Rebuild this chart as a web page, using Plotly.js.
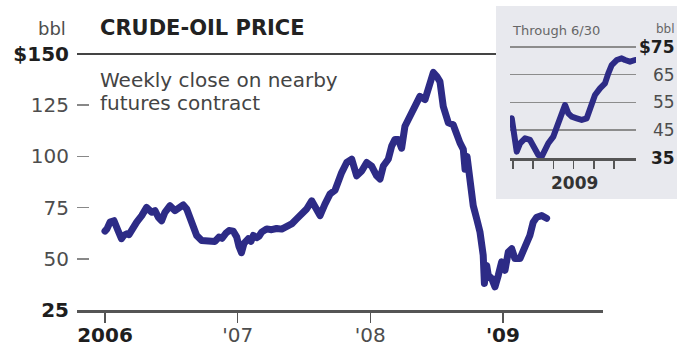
<!DOCTYPE html>
<html>
<head>
<meta charset="utf-8">
<script src="https://cdn.plot.ly/plotly-3.0.1.min.js"></script>
<style>
html,body{margin:0;padding:0;background:#fff;}
#chart{width:678px;height:347px;}
.scatterlayer .js-line{stroke-linejoin:round!important;stroke-linecap:round!important;}
</style>
</head>
<body>
<div id="chart"></div>
<script>
// ---- Main chart data: weekly close (x = fractional year) ----
const mainYears = [
  2006.000,2006.015,2006.038,2006.068,2006.098,2006.124,2006.143,2006.164,2006.181,2006.201,
  2006.239,2006.277,2006.314,2006.352,2006.377,2006.402,2006.427,2006.452,2006.490,2006.528,
  2006.565,2006.590,2006.616,2006.641,2006.666,2006.691,2006.729,2006.779,2006.829,2006.859,
  2006.882,2006.912,2006.935,2006.967,2006.993,2007.010,2007.029,2007.048,2007.080,2007.100,
  2007.118,2007.143,2007.161,2007.181,2007.219,2007.256,2007.294,2007.332,2007.370,2007.407,
  2007.445,2007.483,2007.520,2007.558,2007.583,2007.621,2007.658,2007.696,2007.734,2007.756,
  2007.784,2007.822,2007.860,2007.897,2007.935,2007.973,2008.010,2008.048,2008.073,2008.098,
  2008.135,2008.161,2008.186,2008.211,2008.236,2008.261,2008.299,2008.337,2008.374,2008.412,
  2008.437,2008.475,2008.502,2008.525,2008.550,2008.588,2008.625,2008.651,2008.676,2008.701,
  2008.714,2008.729,2008.751,2008.776,2008.802,2008.827,2008.851,2008.860,2008.877,2008.889,
  2008.915,2008.940,2008.965,2008.990,2009.015,2009.040,2009.066,2009.090,2009.128,2009.166,
  2009.203,2009.228,2009.254,2009.292,2009.329
];
const mainPrices = [
  63.5,64.6,67.9,68.6,63.8,59.8,61.5,62.2,61.8,64.6,
  67.9,71.1,75.1,72.7,73.5,70.3,68.6,72.7,75.9,73.5,
  75.1,76.3,74.3,69.5,64.6,61.4,58.9,58.9,58.5,60.6,
  60.0,62.5,63.8,63.5,60.6,56.0,53.0,57.5,59.8,58.5,
  61.4,60.3,61.0,63.0,64.6,64.2,64.8,64.5,65.4,67.0,
  69.5,71.9,74.3,78.3,75.9,71.1,76.7,81.6,83.5,88.0,
  92.1,97.0,98.6,90.5,92.9,97.0,95.3,90.5,88.9,95.3,
  98.6,105.0,108.3,108.3,104.0,114.7,119.6,126.1,129.3,127.7,
  134.1,141.0,139.0,136.5,124.4,116.4,115.5,109.9,106.6,103.4,
  93.7,100.0,88.9,75.9,69.5,63.0,51.7,38.0,46.8,42.0,
  40.4,36.3,42.0,48.5,44.4,53.3,54.9,50.1,50.1,54.9,
  61.4,67.9,70.3,71.1,69.8
];
const yearTicks = [2006, 2007, 2008, 2009];
const yearTickLabels = ['2006', "'07", "'08", "'09"];
const priceTicks = [25, 50, 75, 100, 125, 150];
const priceTickLabels = ['25', '50', '75', '100', '125', '$150'];

// ---- Inset data: 2009 through 6/30 (x = months since Jan 1, 2009) ----
const insetMonths = [
  -0.064,0.099,0.183,0.347,0.594,0.842,1.005,1.252,1.421,1.584,
  1.748,1.995,2.163,2.411,2.574,2.738,2.906,3.153,3.401,3.649,
  3.812,4.059,4.307,4.554,4.718,4.886,5.134,5.381,5.545,5.792,6.040
];
const insetPrices = [
  49.3,41.5,37.3,40.3,42.1,41.5,39.1,36.1,35.5,37.9,
  40.3,42.7,46.3,51.1,54.1,51.1,49.9,49.3,48.7,49.3,
  52.3,57.7,60.1,61.9,65.5,68.5,70.3,70.9,70.3,69.7,70.3
];
const insetMonthTicks = [0, 1, 2, 3, 4, 5];
const insetPriceTicks = [35, 45, 55, 65, 75];
const insetPriceLabels = ['35', '45', '55', '65', '$75'];

// ---- layout helpers (pixel geometry) ----
const W = 678, H = 347;
const M = {l: 77, r: 0, t: 0, b: 37};
const PW = W - M.l - M.r, PH = H - M.t - M.b;
const px2x = px => (px - M.l) / PW;
const px2y = py => (H - M.b - py) / PH;

const FONT = 'DejaVu Sans';
const LINE = '#2d2b86';
const DARK = '#1e1e1e';
const GRAY = '#4d4d4d';

const boldEnds = (labels) => labels.map((t, i) =>
  (i === 0 || i === labels.length - 1) ? '<b><span style="color:' + DARK + '">' + t + '</span></b>' : t);

const traces = [
  {x: mainYears, y: mainPrices, xaxis: 'x', yaxis: 'y', type: 'scatter', mode: 'lines',
   line: {color: LINE, width: 7}, hoverinfo: 'skip'},
  {x: insetMonths, y: insetPrices, xaxis: 'x2', yaxis: 'y2', type: 'scatter', mode: 'lines',
   line: {color: LINE, width: 6}, hoverinfo: 'skip'}
];

const annotations = [
  {text: 'bbl', xref: 'paper', yref: 'paper', x: px2x(68), y: px2y(28), xanchor: 'right', yanchor: 'middle',
   showarrow: false, font: {family: FONT, size: 18, color: GRAY}},
  {text: '<b>CRUDE-OIL PRICE</b>', xref: 'paper', yref: 'paper', x: px2x(98), y: px2y(28.5), xanchor: 'left', yanchor: 'middle',
   showarrow: false, font: {family: FONT, size: 21, color: '#222'}},
  {text: 'Weekly close on nearby', xref: 'paper', yref: 'paper', x: px2x(98), y: px2y(80), xanchor: 'left', yanchor: 'middle',
   showarrow: false, font: {family: FONT, size: 20, color: '#444'}},
  {text: 'futures contract', xref: 'paper', yref: 'paper', x: px2x(98), y: px2y(103), xanchor: 'left', yanchor: 'middle',
   showarrow: false, font: {family: FONT, size: 20, color: '#444'}},
  {text: 'Through 6/30', xref: 'paper', yref: 'paper', x: px2x(510), y: px2y(30), xanchor: 'left', yanchor: 'middle',
   showarrow: false, font: {family: FONT, size: 13, color: '#666'}},
  {text: 'bbl', xref: 'paper', yref: 'paper', x: px2x(677), y: px2y(29), xanchor: 'right', yanchor: 'middle',
   showarrow: false, font: {family: FONT, size: 12, color: '#666'}},
  {text: '<b>2009</b>', xref: 'paper', yref: 'paper', x: px2x(574), y: px2y(183), xanchor: 'center', yanchor: 'middle',
   showarrow: false, font: {family: FONT, size: 17, color: '#333'}}
];
const insetLabelText = boldEnds(insetPriceLabels);
insetPriceTicks.forEach((v, i) => {
  annotations.push({text: insetLabelText[i], xref: 'paper', yref: 'y2', x: px2x(677), y: v,
    xanchor: 'right', yanchor: 'middle', showarrow: false,
    font: {family: FONT, size: 17, color: GRAY}});
});

const layout = {
  width: W, height: H,
  margin: M,
  paper_bgcolor: '#ffffff',
  plot_bgcolor: 'rgba(0,0,0,0)',
  showlegend: false,
  font: {family: FONT, color: GRAY},
  xaxis: {
    domain: [px2x(77), px2x(603)],
    range: [2005.789, 2009.754],
    anchor: 'y',
    tickmode: 'array', tickvals: yearTicks, ticktext: boldEnds(yearTickLabels),
    ticks: 'outside', ticklen: 10, tickwidth: 1.5, tickcolor: '#555',
    ticklabelstandoff: -5,
    tickfont: {family: FONT, size: 20, color: GRAY},
    showline: true, linecolor: '#555', linewidth: 3,
    showgrid: false, zeroline: false, fixedrange: true
  },
  yaxis: {
    domain: [px2y(310), px2y(54)],
    range: [25, 150],
    anchor: 'x',
    tickmode: 'array', tickvals: priceTicks, ticktext: boldEnds(priceTickLabels),
    ticks: 'inside', ticklen: 12, tickwidth: 1.5, tickcolor: '#888',
    ticklabelstandoff: 7,
    tickfont: {family: FONT, size: 20, color: GRAY},
    showline: false, showgrid: false, zeroline: false, fixedrange: true
  },
  xaxis2: {
    domain: [px2x(510), px2x(636)],
    range: [-0.15, 6.09],
    anchor: 'y2',
    tickmode: 'array', tickvals: insetMonthTicks,
    ticks: 'outside', ticklen: 8, tickwidth: 1.5, tickcolor: '#555',
    showticklabels: false,
    showline: true, linecolor: '#555', linewidth: 2.5,
    showgrid: false, zeroline: false, fixedrange: true
  },
  yaxis2: {
    domain: [px2y(158), px2y(45.3)],
    range: [35, 75.6],
    anchor: 'x2',
    tickmode: 'array', tickvals: insetPriceTicks.slice(1),
    ticks: '', showticklabels: false,
    showgrid: true, gridcolor: '#8c8c8c', gridwidth: 1.5,
    showline: false, zeroline: false, fixedrange: true
  },
  shapes: [
    {type: 'line', xref: 'paper', yref: 'paper', x0: px2x(77), x1: px2x(497), y0: px2y(54), y1: px2y(54),
     line: {color: '#444', width: 2}, layer: 'below'},
    {type: 'rect', xref: 'paper', yref: 'paper', x0: px2x(496), x1: px2x(677), y0: px2y(199), y1: px2y(6),
     fillcolor: '#e8e9ee', line: {width: 0}, layer: 'below'}
  ],
  annotations: annotations
};

Plotly.newPlot('chart', traces, layout, {staticPlot: true, displayModeBar: false});
</script>
</body>
</html>
